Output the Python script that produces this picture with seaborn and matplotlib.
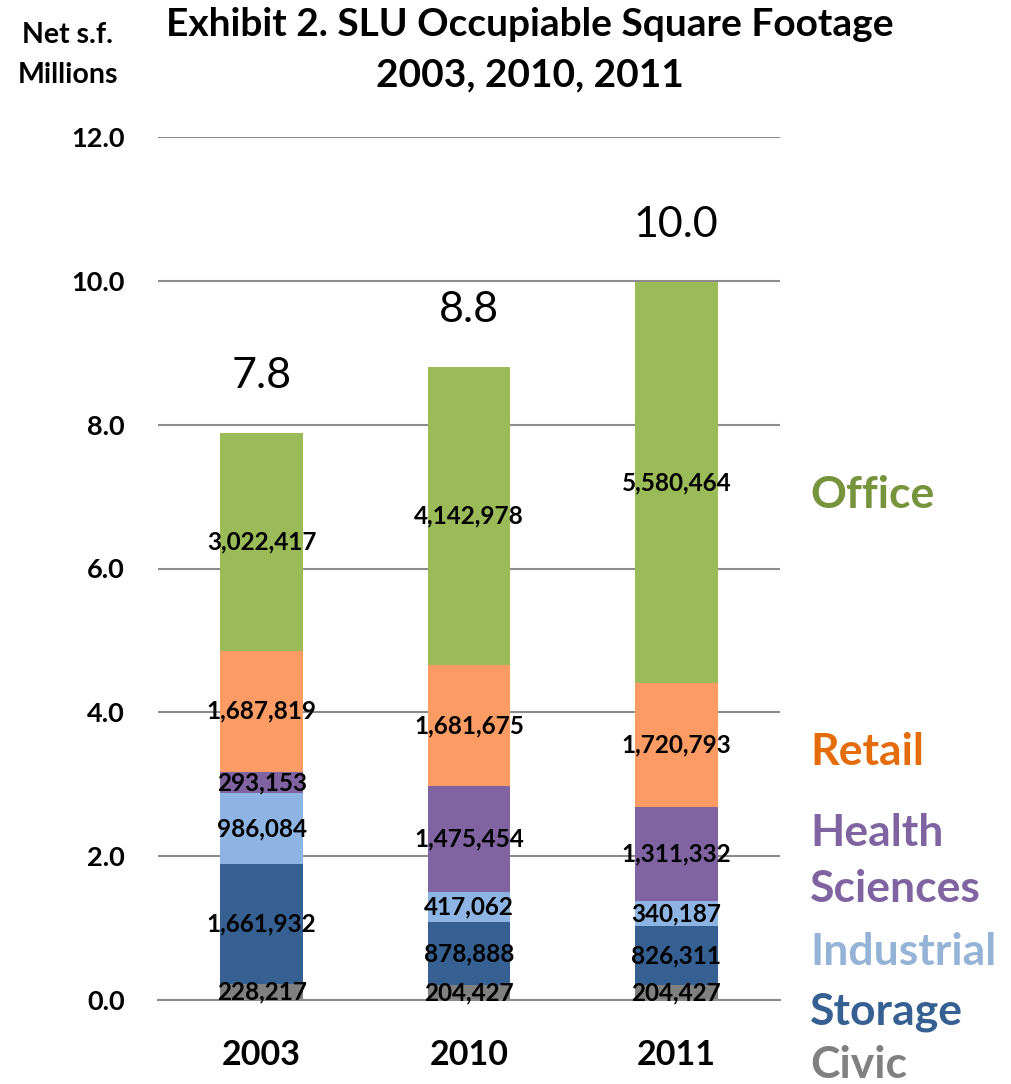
import matplotlib
matplotlib.use("Agg")
import matplotlib.pyplot as plt
import seaborn as sns
import pandas as pd
import numpy as np

years = ["2003", "2010", "2011"]
civic = [228217, 204427, 204427]
storage = [1661932, 878888, 826311]
industrial = [986084, 417062, 340187]
health = [293153, 1475454, 1311332]
retail = [1687819, 1681675, 1720793]
office = [3022417, 4142978, 5580464]
totals_text = ["7.8", "8.8", "10.0"]
layer_names = ["Civic", "Storage", "Industrial", "Health Sciences", "Retail", "Office"]
bar_colors = ["#808080", "#376092", "#8EB4E3", "#8064A2", "#FC9B64", "#9BBB59"]
text_colors = ["#808080", "#376092", "#95B3D7", "#8064A2", "#E46C0A", "#77933C"]
yticks = [0, 2, 4, 6, 8, 10, 12]

sns.set_theme(style="white")
plt.rcParams["font.family"] = ["Lato", "DejaVu Sans"]
plt.rcParams["text.color"] = "black"
plt.rcParams["xtick.color"] = "black"
plt.rcParams["ytick.color"] = "black"

layers = [civic, storage, industrial, health, retail, office]
vals = np.array(layers, dtype=float) / 1e6
cums = np.cumsum(vals, axis=0)

fig = plt.figure(figsize=(10.12, 10.84), dpi=100)
ax = fig.add_axes([158/1012, 84/1084, 622/1012, 863/1084])

# gridlines
for t in yticks:
    ax.axhline(t, color="#8c8c8c", lw=1.5, zorder=0)

# stacked bars: draw cumulative from top layer down
for i in range(len(layers) - 1, -1, -1):
    df = pd.DataFrame({"year": years, "value": cums[i]})
    sns.barplot(data=df, x="year", y="value", color=bar_colors[i], width=0.4,
                saturation=1, ax=ax, zorder=2, linewidth=0)

# segment labels
for i in range(len(layers)):
    for j in range(len(years)):
        center = cums[i, j] - vals[i, j] / 2
        ax.text(j, center, f"{layers[i][j]:,}", ha="center", va="center",
                fontsize=17.5, fontweight="bold", color="black", zorder=5)

# total labels
for j in range(len(years)):
    ax.annotate(totals_text[j], (j, cums[-1, j]), xytext=(0, 41),
                textcoords="offset points", ha="center", va="center",
                fontsize=31, color="black")

ax.set_xlim(-0.5, 2.5)
ax.set_ylim(0, 12)
ax.set_yticks(yticks)
ax.set_yticklabels([f"{t:.1f}" for t in yticks], fontsize=19.5, fontweight="bold",
                   color="black")
ax.tick_params(axis="y", length=0, pad=24, labelcolor="black")
ax.set_xticks(range(len(years)))
ax.set_xticklabels(years, fontsize=24.5, fontweight="bold", color="black")
ax.tick_params(axis="x", length=0, pad=28, labelcolor="black")
ax.set_xticks([-0.5, 0.5, 1.5, 2.5], minor=True)
ax.tick_params(axis="x", which="minor", length=8, width=1.5, color="#8c8c8c", direction="out")
ax.set_xlabel("")
ax.set_ylabel("")
for s in ["top", "right", "left"]:
    ax.spines[s].set_visible(False)
ax.spines["bottom"].set_color("#8c8c8c")
ax.spines["bottom"].set_linewidth(1.5)

# legend-like labels on right
legend_y = {"Office": 7.02, "Retail": 3.45, "Health": 2.32, "Sciences": 1.54,
            "Industrial": 0.67, "Storage": -0.17, "Civic": -0.9}
legend_col = {"Office": text_colors[5], "Retail": text_colors[4], "Health": text_colors[3],
              "Sciences": text_colors[3], "Industrial": text_colors[2],
              "Storage": text_colors[1], "Civic": text_colors[0]}
for name, yv in legend_y.items():
    ax.text(2.645, yv, name, ha="left", va="center", fontsize=32, fontweight="bold",
            color=legend_col[name], clip_on=False)

fig.text(530/1012, 1 - 25/1084, "Exhibit 2. SLU Occupiable Square Footage",
         ha="center", va="center", fontsize=28, fontweight="bold", color="black")
fig.text(530/1012, 1 - 75/1084, "2003, 2010, 2011",
         ha="center", va="center", fontsize=28, fontweight="bold", color="black")
fig.text(68/1012, 1 - 35/1084, "Net s.f.", ha="center", va="center",
         fontsize=20.5, fontweight="bold", color="black")
fig.text(68/1012, 1 - 75/1084, "Millions", ha="center", va="center",
         fontsize=20.5, fontweight="bold", color="black")

fig.savefig("out.png", dpi=100)
